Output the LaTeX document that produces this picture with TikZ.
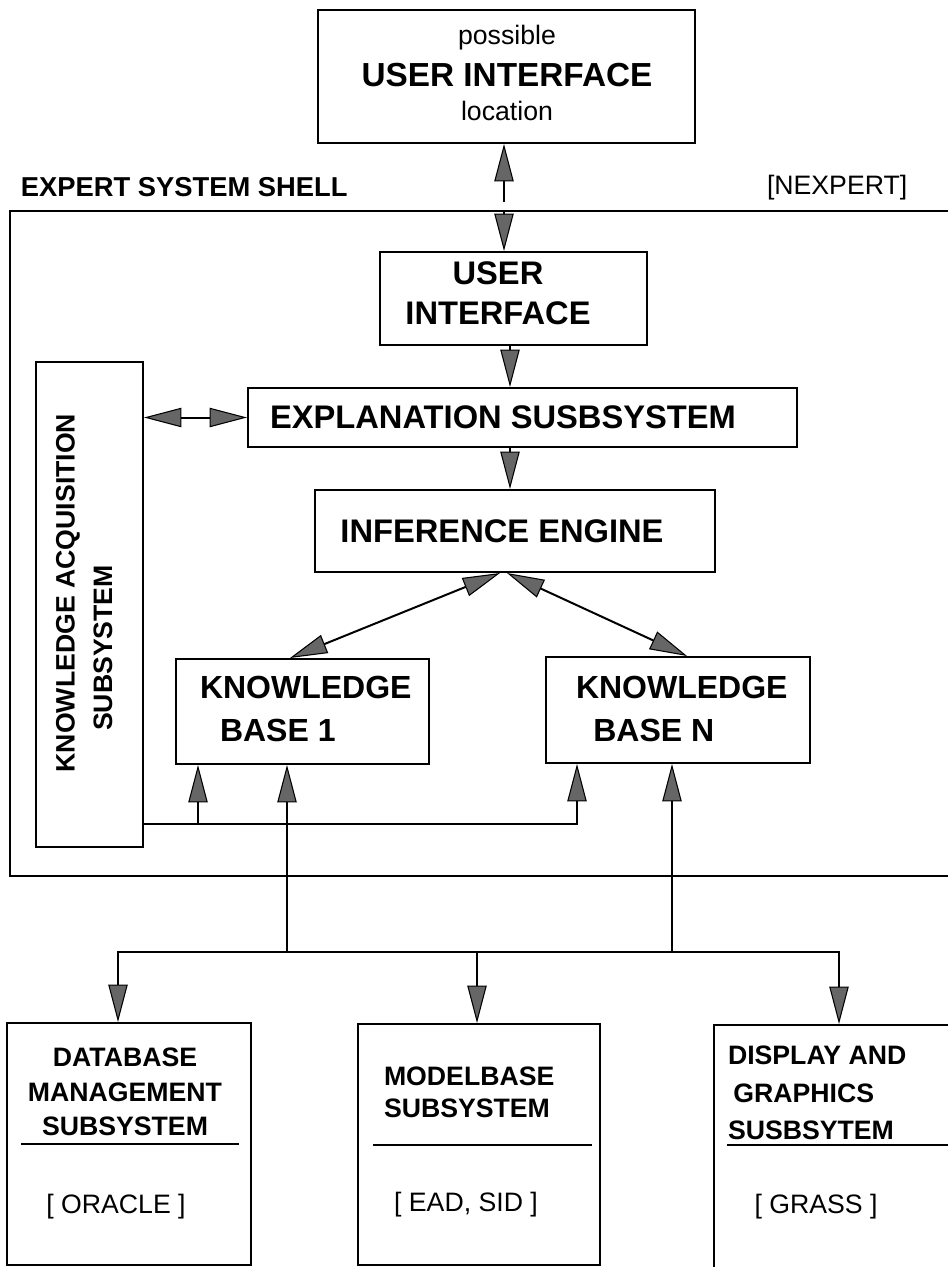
\documentclass[tikz,border=0pt]{standalone}
\usepackage{fontspec}
\setmainfont{Liberation Sans}
\usetikzlibrary{arrows.meta,fit}

\tikzset{
  box/.style={draw, line width=1.5pt, inner sep=0pt},
  kbtxt/.style={font=\bfseries\fontsize{24}{32}\selectfont, align=left, inner sep=0pt, anchor=west},
  bigtxt/.style={font=\bfseries\fontsize{24.5}{30}\selectfont, align=center, inner sep=0pt},
  subtxt/.style={font=\bfseries\fontsize{20}{26}\selectfont, inner sep=0pt},
  smalltxt/.style={font=\fontsize{20}{24}\selectfont, inner sep=0pt},
}

\begin{document}
\begin{tikzpicture}[x=0.75pt, y=-0.75pt, line width=1.5pt,
  >={Triangle[length=28pt, width=14.5pt, fill=black!60, line width=0.8pt]}]
  \useasboundingbox (0,0) rectangle (947,1267);

  % Kaesten
  \node[box, fit={(318,10) (695,143)}]   (top)   {};
  \node[box, fit={(10,211) (975,876)}]   (shell) {};
  \node[box, fit={(380,252) (647,345)}]  (ui)    {};
  \node[box, fit={(36,362) (143,847)}]   (ka)    {};
  \node[box, fit={(248,388) (797,447)}]  (expl)  {};
  \node[box, fit={(315,490) (715,572)}]  (inf)   {};
  \node[box, fit={(176,659) (429,764)}]  (kb1)   {};
  \node[box, fit={(546,657) (810,763)}]  (kbn)   {};
  \node[box, fit={(7,1023) (251,1265)}]  (db)    {};
  \node[box, fit={(358,1024) (600,1265)}] (mb)   {};
  \node[box, fit={(714,1025) (980,1290)}] (dg)   {};

  % Beschriftungen
  \node[smalltxt] (ptxt) at (507,38) {possible};
  \node[bigtxt, font=\bfseries\fontsize{25}{30}\selectfont] (toptxt) at (507,75) {USER INTERFACE};
  \node[smalltxt] (ltxt) at (507,111) {location};
  \node[subtxt, font=\bfseries\fontsize{20.5}{24}\selectfont, anchor=west] (shelltxt) at (20,187) {EXPERT SYSTEM SHELL};
  \node[smalltxt, anchor=west] (nextxt) at (766,188) {[NEXPERT]};
  \node[bigtxt] (uitxt) at (498,293) {USER\\INTERFACE};
  \node[bigtxt] (expltxt) at (503,417) {EXPLANATION SUSBSYSTEM};
  \node[bigtxt] (inftxt) at (502,531) {INFERENCE ENGINE};
  \node[kbtxt] (kb1txt) at (199,709) {KNOWLEDGE\\\hspace*{15pt}BASE 1};
  \node[kbtxt] (kbntxt) at (575,709) {KNOWLEDGE\\\hspace*{13pt}BASE N};
  \node[subtxt, rotate=90] (katxt) at (68,593) {KNOWLEDGE ACQUISITION};
  \node[subtxt, rotate=90] (kasub) at (103,648) {SUBSYSTEM};

  \node[subtxt, align=center] (dbtxt) at (125,1092) {DATABASE\\MANAGEMENT\\SUBSYSTEM};
  \node[smalltxt] (dbsys) at (116,1207) {[ ORACLE ]};
  \node[subtxt, align=left, anchor=west] (mbtxt) at (383,1092) {MODELBASE\\[-2pt]SUBSYSTEM};
  \node[smalltxt] (mbsys) at (466,1205) {[ EAD, SID ]};
  \node[subtxt, align=left, anchor=west] (dgtxt) at (727,1093) {DISPLAY AND\\[2pt]\hspace*{4pt}GRAPHICS\\[2pt]SUSBSYTEM};
  \node[smalltxt] (dgsys) at (816,1207) {[ GRASS ]};

  \draw (21,1144) -- (239,1144);   % Trennlinien
  \draw (373,1145) -- (592,1145);
  \draw (727,1145) -- (960,1145);

  % Hilfspunkte fuer die Pfeile
  \coordinate (stub) at (504,202);
  \coordinate (mid)  at (510,0);
  \coordinate (d1)   at (500,0);
  \coordinate (d2)   at (507,0);
  \coordinate (t1)   at (290,0);
  \coordinate (t2)   at (687,0);
  \coordinate (kabus) at (198,824);
  \coordinate (kbnin) at (577,0);
  \coordinate (bus)  at (477,952);
  \coordinate (k1x)  at (287,0);
  \coordinate (k2x)  at (672,0);
  \coordinate (dbx)  at (118,0);
  \coordinate (dgx)  at (839,0);

  \draw[->] (stub) -- (stub |- top.south);
  \draw[->] (stub |- shell.north) -- (stub |- ui.north);
  \path[->] (mid |- ui.south)   edge (mid |- expl.north)
            (mid |- expl.south) edge (mid |- inf.north);
  \draw[<->] (ka.east |- expl.west) -- (expl.west);
  \draw[<->] (d1 |- inf.south) -- (t1 |- kb1.north);
  \draw[<->] (d2 |- inf.south) -- (t2 |- kbn.north);

  \draw[->] (ka.east |- kabus) -| (kbnin |- kbn.south); % Wissenserwerb
  \draw[->] (kabus) -- (kabus |- kb1.south);

  \draw (k1x |- bus) -- (k2x |- bus);
  \path[->] (k1x |- bus) edge (k1x |- kb1.south)
            (k2x |- bus) edge (k2x |- kbn.south);
  \draw[->] (bus) -| (dbx |- db.north);
  \draw[->] (bus) -| (dgx |- dg.north);
  \draw[->] (bus) -- (bus |- mb.north);
\end{tikzpicture}
\end{document}
